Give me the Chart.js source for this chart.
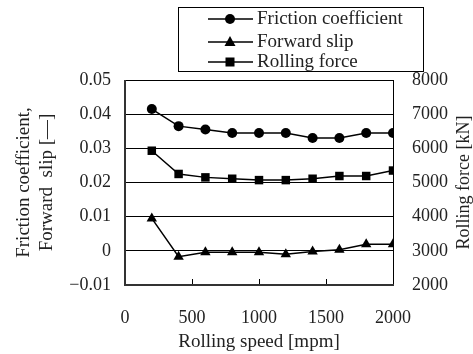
<!DOCTYPE html>
<html><head><meta charset="utf-8">
<script src="https://cdn.jsdelivr.net/npm/chart.js@4/dist/chart.umd.min.js"></script>
<style>html,body{margin:0;padding:0;background:#fff}#c{display:block}</style>
</head><body>
<canvas id="c" width="473" height="354"></canvas>
<script>
const speeds = [200, 400, 600, 800, 1000, 1200, 1400, 1600, 1800, 2000];
const frictionCoef = [0.0415, 0.0365, 0.0355, 0.0345, 0.0345, 0.0345, 0.033, 0.033, 0.0345, 0.0345];
const forwardSlip = [0.0095, -0.0017, -0.0004, -0.0004, -0.0004, -0.001, -0.0002, 0.0003, 0.0019, 0.0019];
const rollingForce = [5930, 5250, 5150, 5110, 5070, 5070, 5110, 5190, 5190, 5350];
const leftTicks = [-0.01, 0, 0.01, 0.02, 0.03, 0.04, 0.05];
const rightTicks = [2000, 3000, 4000, 5000, 6000, 7000, 8000];
const xTicks = [0, 500, 1000, 1500, 2000];
const seriesNames = ['Friction coefficient', 'Forward slip', 'Rolling force'];
const rightTitle = 'Rolling force [kN]';

const FONT = 'Liberation Serif';
const TXT = '#222';
const pts = (ys) => speeds.map((x, i) => ({x, y: ys[i]}));

const legendPlugin = {
  id: 'boxLegend',
  afterDraw(chart) {
    const ctx = chart.ctx;
    ctx.save();
    const bx = 178, by = 7, bw = 245, bh = 64;
    ctx.strokeStyle = '#000'; ctx.lineWidth = 1;
    ctx.strokeRect(bx + 0.5, by + 0.5, bw, bh);
    const rows = [12, 35, 55];
    chart.data.datasets.forEach((ds, i) => {
      const y = by + rows[i];
      ctx.beginPath(); ctx.strokeStyle = '#000'; ctx.lineWidth = 1.5;
      ctx.moveTo(208, y); ctx.lineTo(253, y); ctx.stroke();
      ctx.fillStyle = '#000';
      const cx = 230;
      if (ds.pointStyle === 'circle') { ctx.beginPath(); ctx.arc(cx, y, 5, 0, Math.PI * 2); ctx.fill(); }
      else if (ds.pointStyle === 'rect') { ctx.fillRect(cx - 4.5, y - 4.5, 9, 9); }
      else { ctx.beginPath(); ctx.moveTo(cx, y - 6); ctx.lineTo(cx + 5.5, y + 4); ctx.lineTo(cx - 5.5, y + 4); ctx.closePath(); ctx.fill(); }
      ctx.fillStyle = TXT; ctx.font = '19px "' + FONT + '"';
      ctx.textBaseline = 'middle'; ctx.textAlign = 'left';
      ctx.fillText(ds.label, 257, y);
    });
    // right axis title, reading bottom to top
    const ca = chart.chartArea;
    ctx.save();
    ctx.translate(464, (ca.top + ca.bottom) / 2);
    ctx.rotate(-Math.PI / 2);
    ctx.fillStyle = TXT; ctx.font = '18px "' + FONT + '"';
    ctx.textAlign = 'center'; ctx.textBaseline = 'middle';
    ctx.fillText(rightTitle, 0, 0);
    ctx.restore();
    // inward x tick marks
    const xs = chart.scales.x;
    ctx.beginPath(); ctx.strokeStyle = '#000'; ctx.lineWidth = 1;
    xTicks.forEach(v => { const px = Math.round(xs.getPixelForValue(v)) + 0.5; ctx.moveTo(px, ca.bottom); ctx.lineTo(px, ca.bottom - 6); });
    ctx.stroke();
    // frame
    ctx.strokeStyle = '#000'; ctx.lineWidth = 1;
    ctx.beginPath(); ctx.moveTo(ca.right + 0.5, ca.top); ctx.lineTo(ca.right + 0.5, ca.bottom); ctx.stroke();
    ctx.strokeStyle = '#333'; ctx.lineWidth = 2;
    ctx.beginPath(); ctx.moveTo(ca.left, ca.top); ctx.lineTo(ca.left, ca.bottom); ctx.lineTo(ca.right + 1, ca.bottom); ctx.stroke();
    ctx.restore();
  }
};

new Chart(document.getElementById('c'), {
  type: 'line',
  data: {
    datasets: [
      {label: seriesNames[0], data: pts(frictionCoef), yAxisID: 'y', pointStyle: 'circle', pointRadius: 5},
      {label: seriesNames[1], data: pts(forwardSlip), yAxisID: 'y', pointStyle: 'triangle', pointRadius: 6},
      {label: seriesNames[2], data: pts(rollingForce), yAxisID: 'y1', pointStyle: 'rect', pointRadius: 6}
    ].map(d => Object.assign({borderColor: '#000', backgroundColor: '#000', pointBackgroundColor: '#000', pointBorderColor: '#000', borderWidth: 1.5, pointBorderWidth: 0, tension: 0}, d))
  },
  options: {
    responsive: false, animation: false,
    layout: {padding: {top: 80, left: 0, right: 0, bottom: 0}},
    plugins: {legend: {display: false}, tooltip: {enabled: false}},
    scales: {
      x: {
        type: 'linear', min: 0, max: 2000,
        afterBuildTicks: s => { s.ticks = xTicks.map(v => ({value: v})); },
        afterFit: s => { s.height = 69; },
        grid: {display: false},
        border: {display: false},
        ticks: {color: TXT, font: {family: FONT, size: 18}, padding: 14, maxRotation: 0, callback: v => String(v)},
        title: {display: true, text: 'Rolling speed [mpm]', color: TXT, font: {family: FONT, size: 19, lineHeight: 1.2}, padding: {top: 0, bottom: 1}}
      },
      y: {
        position: 'left', min: -0.01, max: 0.05,
        afterBuildTicks: s => { s.ticks = leftTicks.map(v => ({value: v})); },
        afterFit: s => { s.width = 125; },
        grid: {color: '#000', lineWidth: 1, drawTicks: false},
        border: {display: false},
        ticks: {color: TXT, font: {family: FONT, size: 18}, padding: 14,
          callback: v => v < 0 ? '\u2212' + Math.abs(v).toFixed(2) : (v === 0 ? '0' : v.toFixed(2))},
        title: {display: true, text: ['Friction coefficient,', 'Forward  slip [\u2014]'], color: TXT, font: {family: FONT, size: 19, lineHeight: 1.2}, padding: {top: 13, bottom: 0}}
      },
      y1: {
        position: 'right', min: 2000, max: 8000,
        afterBuildTicks: s => { s.ticks = rightTicks.map(v => ({value: v})); },
        afterFit: s => { s.width = 80; },
        grid: {display: false, drawOnChartArea: false},
        border: {display: false},
        ticks: {color: TXT, font: {family: FONT, size: 18}, padding: 11, callback: v => String(v)},
        title: {display: false}
      }
    }
  },
  plugins: [legendPlugin]
});
</script>
</body></html>
